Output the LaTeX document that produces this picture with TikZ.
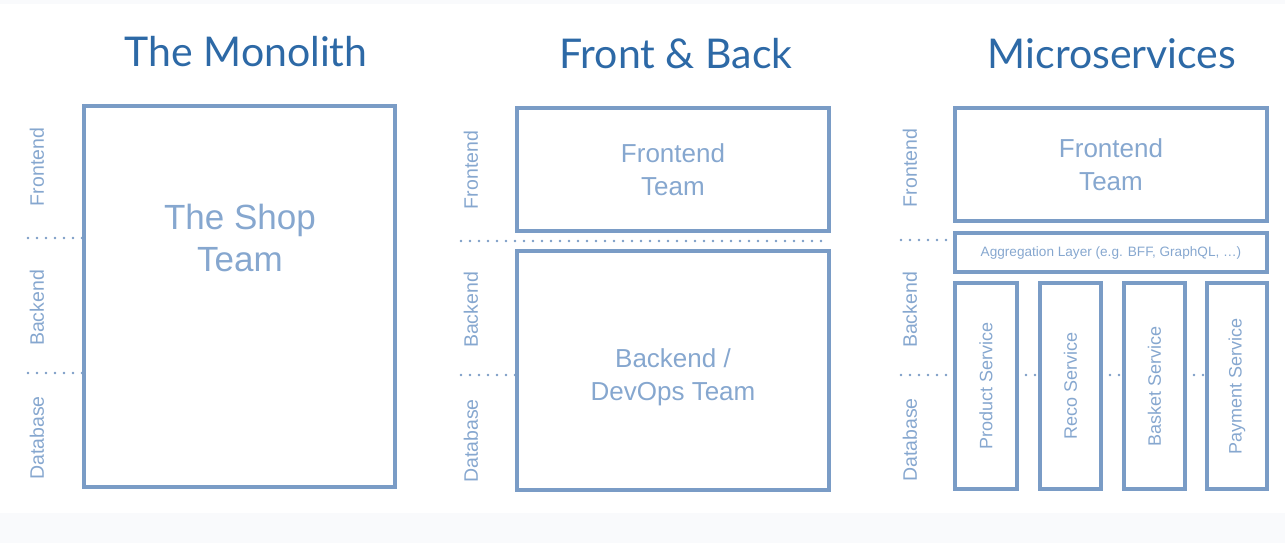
\documentclass[tikz,border=0pt]{standalone}
\usepackage{fontspec}
\setmainfont{Liberation Sans}
\newfontfamily\titlefont{Lato}
\usetikzlibrary{calc}
\definecolor{titleblue}{HTML}{2D69A6}
\definecolor{boxblue}{HTML}{7A9CC6}
\definecolor{txtblue}{HTML}{86A7CF}
\definecolor{band}{HTML}{F9FAFC}
\tikzset{
  box/.style={draw=boxblue, line width=3.5pt, rectangle, inner sep=0pt, outer sep=0pt, text=txtblue, align=center},
  title/.style={text=titleblue, font=\titlefont\fontsize{41}{44}\selectfont, inner sep=0pt},
  side/.style={text=txtblue, rotate=90, font=\fontsize{19.5}{22}\selectfont, inner sep=0pt},
  dots/.style={draw=boxblue, line width=2.8pt, line cap=round, dash pattern=on 0pt off 9pt},
  svc/.style={text=txtblue, rotate=90, font=\fontsize{18}{20}\selectfont, inner sep=0pt}
}
\begin{document}
\begin{tikzpicture}[x=1pt, y=-1pt]
\useasboundingbox (0,0) rectangle (1285,543);
\fill[band] (0,513) rectangle (1285,543);
\fill[band] (0,0) rectangle (1285,4);

% titles
\node[title] (t1) at (246,52) {The Monolith};
\node[title] (t2) at (676,54) {Front \& Back};
\node[title] (t3) at (1112,54) {Microservices};

% column 1
\node[box, minimum width=311pt, minimum height=381pt] (mono) at (239.5,296.5) {};
\node[text=txtblue, align=center, font=\fontsize{35}{42}\selectfont, inner sep=0pt] (monot) at (240,238) {The Shop\\Team};
\node[side] (f1) at (37,167) {Frontend};
\node[side] (b1) at (37,308) {Backend};
\node[side] (db1) at (37,438) {Database};
\coordinate (d1) at (28,238);
\coordinate (d2) at (28,373);
\draw[dots] (d1) -- (d1 -| mono.west);
\draw[dots] (d2) -- (d2 -| mono.west);

% column 2
\node[box, minimum width=312pt, minimum height=123pt, font=\fontsize{26}{33}\selectfont] (fe2) at (673,169.5) {Frontend\\Team};
\node[box, minimum width=312pt, minimum height=239pt] (be2) at (673,370.5) {};
\node[text=txtblue, align=center, font=\fontsize{26}{33}\selectfont, inner sep=0pt] (be2t) at (673,377) {Backend /\\DevOps Team};
\node[side] (f2) at (471,170) {Frontend};
\node[side] (b2) at (471,310) {Backend};
\node[side] (db2) at (471,441) {Database};
\coordinate (d3) at (461,241);
\coordinate (d4) at (461,375);
\draw[dots] (d3) -- (d3 -| fe2.east);
\draw[dots] (d4) -- (d4 -| be2.west);

% column 3
\node[box, minimum width=312pt, minimum height=113pt, font=\fontsize{26}{33}\selectfont] (fe3) at (1111,164.5) {Frontend\\Team};
\node[box, minimum width=312pt, minimum height=39pt, font=\fontsize{13.6}{15}\selectfont] (agg) at (1111,252.5) {Aggregation Layer (e.g. BFF, GraphQL, …)};
\node[box, minimum width=62pt, minimum height=206pt] (prod) at (986,386) {};
\node[box, minimum width=61pt, minimum height=206pt] (reco) at (1070.5,386) {};
\node[box, minimum width=61pt, minimum height=206pt] (bask) at (1154.5,386) {};
\node[box, minimum width=60pt, minimum height=206pt] (pay) at (1237,386) {};
\node[svc] at (prod.center) {Product Service};
\node[svc] at (reco.center) {Reco Service};
\node[svc] at (bask.center) {Basket Service};
\node[svc] at (pay.center) {Payment Service};
\node[side] (f3) at (910,168) {Frontend};
\node[side] (b3) at (910,310) {Backend};
\node[side] (db3) at (910,440) {Database};
\coordinate (d5) at (901,240);
\coordinate (d6) at (901,375);
\draw[dots] (d5) -- (d5 -| agg.west);
\draw[dots] (d6) -- (d6 -| prod.west);
\draw[dots] (d6 -| prod.east) -- (d6 -| reco.west);
\draw[dots] (d6 -| reco.east) -- (d6 -| bask.west);
\draw[dots] (d6 -| bask.east) -- (d6 -| pay.west);
\end{tikzpicture}
\end{document}
